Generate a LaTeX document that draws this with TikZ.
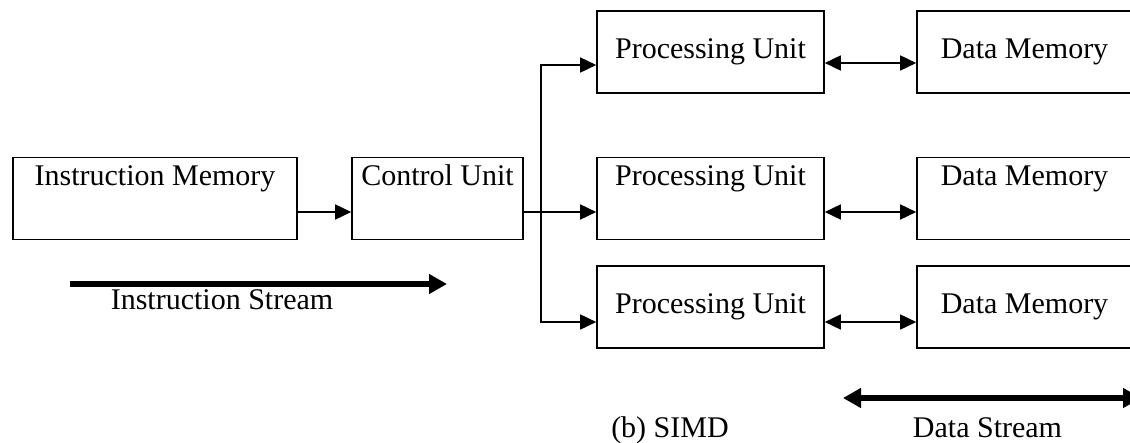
\documentclass[tikz,border=0pt]{standalone}
\usepackage{fontspec}
\setmainfont{Liberation Serif}
\usetikzlibrary{arrows.meta}
\tikzstyle{every picture}=[x=1pt,y=-1pt]
\tikzstyle{txt}=[inner sep=0pt,font=\fontsize{30}{36}\selectfont]
\tikzstyle{box}=[txt,draw,line width=1.6pt,minimum height=82pt]
\tikzstyle{unit}=[box,minimum width=227pt]
\tikzstyle{mem}=[box,minimum width=215pt]
\tikzstyle{oben}=[text height=27pt,text depth=54pt]
\tikzstyle{pfeil}=[line width=1.6pt,-{Triangle[length=16pt,width=15pt]}]
\tikzstyle{doppelpfeil}=[line width=1.6pt,{Triangle[length=16pt,width=15pt]}-{Triangle[length=16pt,width=15pt]}]
\tikzstyle{strom}=[line width=6pt,-{Triangle[length=18pt,width=19pt]}]
\tikzstyle{doppelstrom}=[line width=6pt,{Triangle[length=18pt,width=19pt]}-{Triangle[length=18pt,width=19pt]}]

\begin{document}
\begin{tikzpicture}
			\useasboundingbox (0,0) rectangle (1130,442);
			% Kaesten zeichnen
			\node[box,oben,minimum width=284pt] (im) at (155,198.5) {Instruction Memory};
			\node[box,oben,minimum width=171pt] (cu) at (437.5,198.5) {Control Unit};
			\node[unit] (pu1) at (710.5,52) {Processing Unit};
			\node[unit,oben] (pu2) at (710.5,198.5) {Processing Unit};
			\node[unit] (pu3) at (710.5,307) {Processing Unit};
			\node[mem] (dm1) at (1024.5,52) {Data Memory};
			\node[mem,oben] (dm2) at (1024.5,198.5) {Data Memory};
			\node[mem] (dm3) at (1024.5,307) {Data Memory};
			% Anschlusspunkte
			\coordinate (bus) at (541,0);
			\coordinate (p1) at ([yshift=-13pt]pu1.west);
			\coordinate (p2) at ([yshift=-13.5pt]pu2.west);
			\coordinate (p3) at ([yshift=-15pt]pu3.west);
			% Befehlspfad zeichnen
			\draw[pfeil] ([yshift=-13.5pt]im.east) -- ([yshift=-13.5pt]cu.west);
			\draw[pfeil] ([yshift=-13.5pt]cu.east) -- (p2);
			\draw[pfeil] (bus |- p2) -- (bus |- p1) -- (p1);
			\draw[pfeil] (bus |- p2) -- (bus |- p3) -- (p3);
			% Datenpfade zeichnen
			\draw[doppelpfeil] ([yshift=-11pt]pu1.east) -- ([yshift=-11pt]dm1.west);
			\draw[doppelpfeil] ([yshift=-13.5pt]pu2.east) -- ([yshift=-13.5pt]dm2.west);
			\draw[doppelpfeil] ([yshift=-15pt]pu3.east) -- ([yshift=-15pt]dm3.west);
			% Stroeme beschriften
			\coordinate (is1) at (70,284);
			\coordinate (is2) at (447,284);
			\draw[strom] (is1) -- (is2);
			\node[txt,anchor=base] (istxt) at (222,309) {Instruction Stream};
			\coordinate (ds1) at (843,398);
			\coordinate (ds2) at (1141,398);
			\draw[doppelstrom] (ds1) -- (ds2);
			\node[txt,anchor=base] (dstxt) at (987.5,437) {Data Stream};
			\node[txt,anchor=base] (simd) at (670,437) {(b) SIMD};
		\end{tikzpicture}
\end{document}
